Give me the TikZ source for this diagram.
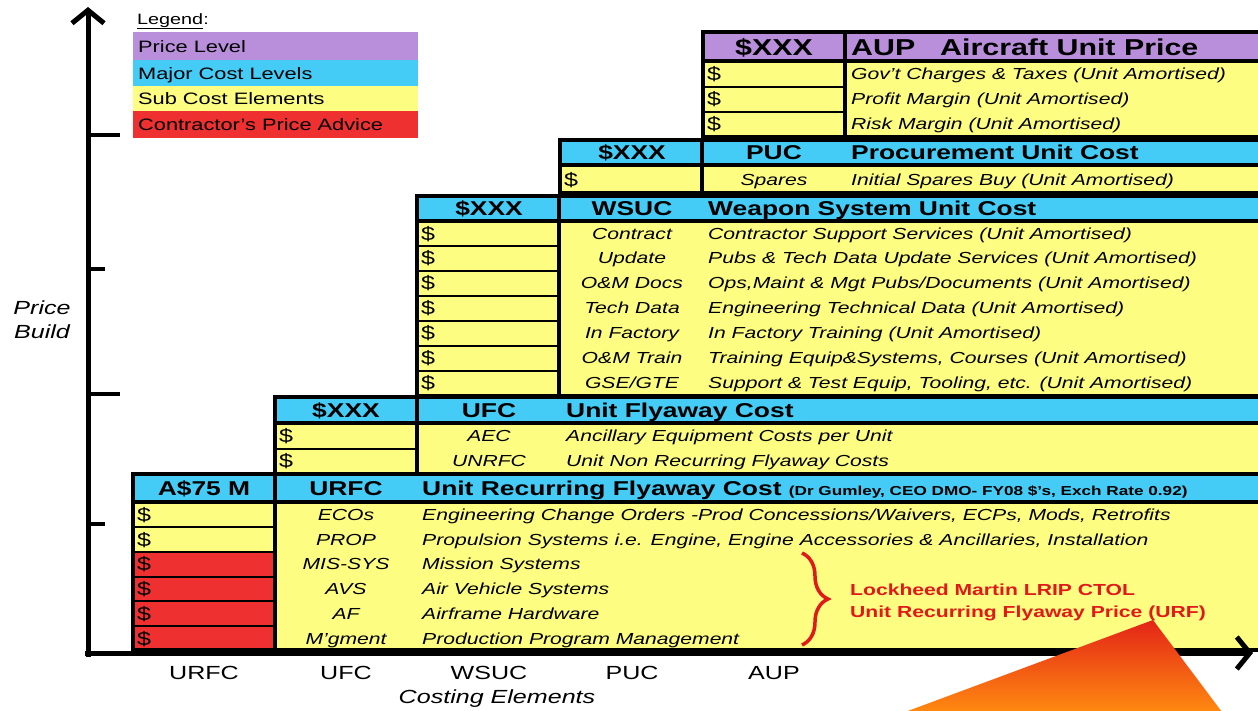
\documentclass[tikz,border=0pt]{standalone}
\usepackage{fontspec}
\setmainfont[FakeStretch=1.32]{Liberation Sans}
\usetikzlibrary{arrows.meta,decorations.pathreplacing}
\definecolor{lvlPurple}{HTML}{B98FDB}
\definecolor{lvlCyan}{HTML}{45CCF6}
\definecolor{subYellow}{HTML}{FDFD82}
\definecolor{advRed}{HTML}{EE3030}
\definecolor{urfRed}{HTML}{E01A1A}
\definecolor{triOrange}{HTML}{FF8A10}

\begin{document}
\begin{tikzpicture}[x=1pt,y=-1pt,every node/.style={inner sep=0pt},
  frame/.style={line width=3.4pt},
  rowline/.style={line width=1.8pt},
  hdr/.style={font=\fontsize{20}{22}\selectfont\bfseries,anchor=base,yshift=-7.2pt},
  hdrw/.style={hdr,anchor=base west},
  bighdr/.style={font=\fontsize{23}{25}\selectfont\bfseries,anchor=base,yshift=-8.3pt},
  code/.style={font=\fontsize{16}{18}\selectfont\itshape,anchor=base,yshift=-5.8pt},
  desc/.style={font=\fontsize{16}{18}\selectfont\itshape,anchor=base west,yshift=-5.8pt},
  dollar/.style={font=\fontsize{19}{21}\selectfont,anchor=base west,yshift=-6.8pt},
  legtxt/.style={font=\fontsize{16.5}{18}\selectfont,anchor=base west,yshift=-6pt},
  urftxt/.style={font=\fontsize{16}{18}\selectfont\bfseries,text=urfRed,anchor=base west,yshift=-5.8pt},
  axlab/.style={font=\fontsize{19}{21}\selectfont,anchor=base,yshift=-6.8pt}]
  \useasboundingbox (0,0) rectangle (1258,710);

  % legend
  \node[anchor=base west,font=\fontsize{15}{17}\selectfont] (legend) at (137,24) {\underline{Legend}:};
  \fill[lvlPurple] (133,32) rectangle (418,60);
  \fill[lvlCyan] (133,60) rectangle (418,86);
  \fill[subYellow] (133,86) rectangle (418,111);
  \fill[advRed] (133,111) rectangle (418,138);
  \node[legtxt] (leg-price) at (138,46) {Price Level};
  \node[legtxt] (leg-major) at (138,73) {Major Cost Levels};
  \node[legtxt] (leg-sub) at (138,98) {Sub Cost Elements};
  \node[legtxt] (leg-adv) at (138,124) {Contractor's Price Advice};

  % the five cost levels, one frame each
  \foreach \xl/\yt/\yh/\yb/\hc in {703/32/61/137/lvlPurple,560/140/165/193/lvlCyan,
      417/196/221/396/lvlCyan,275/397/423/474/lvlCyan,133/474/502/650/lvlCyan}{
    \fill[subYellow] (\xl,\yt) rectangle (1262,\yb);
    \fill[\hc] (\xl,\yt) rectangle (1262,\yh);
  }
  \fill[advRed] (133,552) rectangle (275,650);
  \foreach \y in {87,112} \draw[rowline] (703,\y) -- (845,\y);
  \foreach \y in {246,271,296,321,346,371} \draw[rowline] (417,\y) -- (560,\y);
  \draw[rowline] (275,449) -- (417,449);
  \foreach \y in {527,552,577,601,626} \draw[rowline] (133,\y) -- (275,\y);
  \foreach \xl/\yt/\yh/\yb in {703/32/61/137,560/140/165/193,417/196/221/396,
      275/397/423/474,133/474/502/650}{
    \draw[frame] (1262,\yt) -- (\xl,\yt) -- (\xl,\yb) -- (1262,\yb);
    \draw[frame] (\xl,\yh) -- (1262,\yh);
    \draw[frame] (\xl+142,\yt) -- (\xl+142,\yb);
  }

  % AUP
  \node[bighdr] (aup-val) at (774,47) {\$XXX};
  \node[bighdr,anchor=base west] (aup-code) at (851,47) {AUP};
  \node[bighdr,anchor=base west] (aup-name) at (940,47) {Aircraft Unit Price};
  \foreach \y/\d [count=\i] in {74/Gov't Charges \& Taxes (Unit Amortised),
      99/Profit Margin (Unit Amortised),124/Risk Margin (Unit Amortised)}{
    \node[dollar] (aup-s\i) at (707,\y) {\$};
    \node[desc] (aup-d\i) at (851,\y) {\d};
  }

  % PUC
  \node[hdr] (puc-val) at (632,152) {\$XXX};
  \node[hdr] (puc-code) at (774,152) {PUC};
  \node[hdrw] (puc-name) at (851,152) {Procurement Unit Cost};
  \node[dollar] (puc-s1) at (564,180) {\$};
  \node[code] (puc-c1) at (774,180) {Spares};
  \node[desc] (puc-d1) at (851,180) {Initial Spares Buy (Unit Amortised)};

  % WSUC
  \node[hdr] (wsuc-val) at (489,208) {\$XXX};
  \node[hdr] (wsuc-code) at (632,208) {WSUC};
  \node[hdrw] (wsuc-name) at (708,208) {Weapon System Unit Cost};
  \foreach \y/\c/\d [count=\i] in {
      234/Contract/Contractor Support Services (Unit Amortised),
      258/Update/Pubs \& Tech Data Update Services (Unit Amortised),
      283/O\&M Docs/{Ops,Maint \& Mgt Pubs/Documents (Unit Amortised)},
      308/Tech Data/Engineering Technical Data (Unit Amortised),
      333/In Factory/In Factory Training (Unit Amortised),
      358/O\&M Train/{Training Equip\&Systems, Courses (Unit Amortised)},
      383/{GSE/GTE}/{Support \& Test Equip, Tooling, etc. (Unit Amortised)}}{
    \node[dollar] (wsuc-s\i) at (421,\y) {\$};
    \node[code] (wsuc-c\i) at (632,\y) {\c};
    \node[desc] (wsuc-d\i) at (708,\y) {\d};
  }

  % UFC
  \node[hdr] (ufc-val) at (346,410) {\$XXX};
  \node[hdr] (ufc-code) at (489,410) {UFC};
  \node[hdrw] (ufc-name) at (566,410) {Unit Flyaway Cost};
  \foreach \y/\c/\d [count=\i] in {436/AEC/Ancillary Equipment Costs per Unit,
      461/UNRFC/Unit Non Recurring Flyaway Costs}{
    \node[dollar] (ufc-s\i) at (279,\y) {\$};
    \node[code] (ufc-c\i) at (489,\y) {\c};
    \node[desc] (ufc-d\i) at (566,\y) {\d};
  }

  % URFC
  \node[hdr] (urfc-val) at (204,488) {A\$75 M};
  \node[hdr] (urfc-code) at (346,488) {URFC};
  \node[hdrw] (urfc-name) at (422,488)
    {Unit Recurring Flyaway Cost {\fontsize{13}{15}\selectfont(Dr Gumley, CEO DMO- FY08 \$'s, Exch Rate 0.92)}};
  \foreach \y/\c/\d [count=\i] in {
      515/ECOs/{Engineering Change Orders -Prod Concessions/Waivers, ECPs, Mods, Retrofits},
      540/PROP/{Propulsion Systems i.e. Engine, Engine Accessories \& Ancillaries, Installation},
      564/MIS-SYS/Mission Systems,589/AVS/Air Vehicle Systems,
      614/AF/Airframe Hardware,639/M'gment/Production Program Management}{
    \node[dollar] (urfc-s\i) at (137,\y) {\$};
    \node[code] (urfc-c\i) at (346,\y) {\c};
    \node[desc] (urfc-d\i) at (422,\y) {\d};
  }

  % contractor's part
  \draw[urfRed,line width=3.5pt,decorate,decoration={brace,amplitude=26pt}]
    (802,553) -- (802,645);
  \node[urftxt] (urf-1) at (850,590) {Lockheed Martin LRIP CTOL};
  \node[urftxt] (urf-2) at (850,612) {Unit Recurring Flyaway Price (URF)};

  % axes
  \coordinate (origin) at (88,653);
  \coordinate (ytop) at (88,7);
  \coordinate (xend) at (1253,653);
  \draw[line width=5pt,-{Straight Barb[length=13pt,width=32pt]}] (88,657) -- (ytop);
  \draw[line width=5pt,-{Straight Barb[length=13pt,width=32pt]}] (85,653) -- (xend);
  \foreach \y/\l in {135/120,269/105,394/120,524/105}
    \draw[line width=4pt] (88,\y) -- (\l,\y);

  \begin{scope}
    \clip (0,0) rectangle (1258,710);
    \shade[top color=urfRed!90!orange,bottom color=triOrange]
      (1153,620) -- (905,712) -- (1222,712) -- cycle;
  \end{scope}

  \foreach \x/\t in {204/URFC,346/UFC,489/WSUC,632/PUC,774/AUP}
    \node[axlab] (ax-\t) at (\x,673) {\t};
  \node[axlab,font=\fontsize{19}{21}\selectfont\itshape] (costing) at (497,697) {Costing Elements};
  \node[axlab,font=\fontsize{19}{21}\selectfont\itshape] (price) at (42,308) {Price};
  \node[axlab,font=\fontsize{19}{21}\selectfont\itshape] (build) at (42,332) {Build};
\end{tikzpicture}
\end{document}
